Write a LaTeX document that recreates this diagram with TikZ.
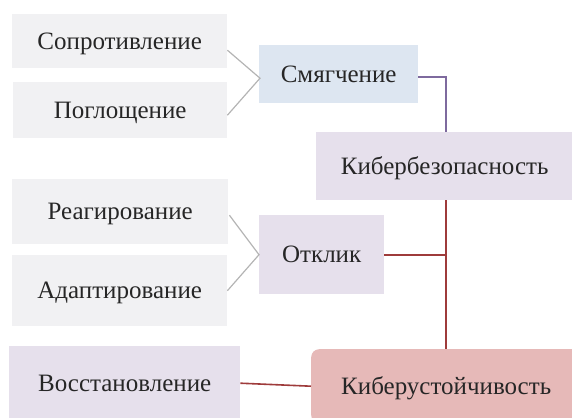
\documentclass[tikz,border=0pt]{standalone}
\usepackage{fontspec}
\setmainfont{Liberation Serif}
\definecolor{boxgray}{HTML}{F1F1F3}
\definecolor{boxblue}{HTML}{DDE6F1}
\definecolor{boxlav}{HTML}{E6E0EC}
\definecolor{boxpink}{HTML}{E6B9B8}
\definecolor{lngray}{HTML}{B4B4B4}
\definecolor{lnpurple}{HTML}{7E6A9E}
\definecolor{lnred}{HTML}{9E3B3B}
\tikzset{
  box/.style={rectangle, inner sep=0pt, anchor=north west, font=\fontsize{25}{29}\selectfont, text=black!85, text height=16.5pt, text depth=0pt},
  graybox/.style={box, fill=boxgray},
  bluebox/.style={box, fill=boxblue},
  lavbox/.style={box, fill=boxlav},
  pinkbox/.style={box, fill=boxpink, rounded corners=8pt},
  chev/.style={draw=lngray, line width=1.2pt},
  purpleline/.style={draw=lnpurple, line width=1.6pt},
  redline/.style={draw=lnred, line width=1.6pt},
}
\begin{document}
\begin{tikzpicture}[x=1pt,y=-1pt]
\useasboundingbox (0,0) rectangle (572,417);
\begin{scope}
\clip (0,0) rectangle (572,417);
% boxes
\node[graybox, minimum width=215pt, minimum height=54pt] (sopr) at (12,14) {Сопротивление};
\node[graybox, minimum width=214pt, minimum height=56pt] (pogl) at (13,82) {Поглощение};
\node[bluebox, minimum width=159pt, minimum height=58pt] (smyag) at (259,45) {Смягчение};
\node[lavbox, minimum width=257pt, minimum height=68pt] (kbez) at (316,132) {Кибербезопасность};
\node[graybox, minimum width=216pt, minimum height=65pt] (reag) at (12,179) {Реагирование};
\node[graybox, minimum width=215pt, minimum height=71pt] (adapt) at (12,255) {Адаптирование};
\node[lavbox, minimum width=125pt, minimum height=79pt] (otklik) at (259,215) {Отклик};
\node[lavbox, minimum width=231pt, minimum height=74pt] (vosst) at (9,346) {Восстановление};
\node[pinkbox, minimum width=270pt, minimum height=74pt] (kust) at (311,349) {Киберустойчивость};
\end{scope}
% chevron connectors
\coordinate (apex1) at ([xshift=1pt,yshift=-4pt]smyag.west);
\draw[chev] ([yshift=-9pt]sopr.east) -- (apex1) -- ([yshift=-5pt]pogl.east);
\coordinate (apex2) at (otklik.west);
\draw[chev] ([xshift=1pt,yshift=-3.5pt]reag.east) -- (apex2) -- (adapt.east);
% purple connector
\coordinate (kbtop) at ([xshift=1pt]kbez.north);
\draw[purpleline] ([yshift=-3pt]smyag.east) -| (kbtop);
% red connectors
\coordinate (kbbot) at ([xshift=1.5pt]kbez.south);
\coordinate (kutop) at (kbbot |- kust.north);
\draw[redline] (kbbot) -- (kutop);
\draw[redline] (otklik.east) -- (otklik.east -| kbbot);
\draw[redline] (vosst.east) -- (kust.west);
\end{tikzpicture}
\end{document}
